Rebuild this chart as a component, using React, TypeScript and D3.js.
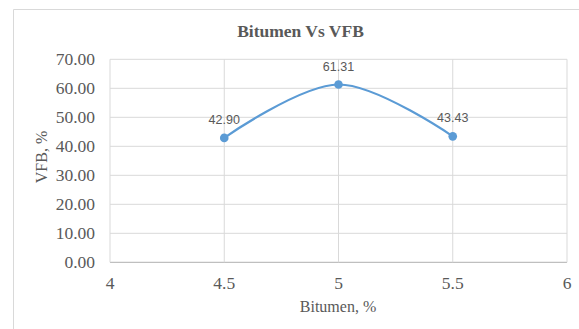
import React from "react";
import * as d3 from "d3";

const bitumen = [4.5, 5, 5.5];
const vfb = [42.9, 61.31, 43.43];
const xTicks = [4, 4.5, 5, 5.5, 6];
const yTicks = [0, 10, 20, 30, 40, 50, 60, 70];

const W = 579;
const H = 329;
const M = { left: 110, right: 567, top: 59.3, bottom: 262.3 };

export default function App() {
  const x = d3.scaleLinear().domain([4, 6]).range([M.left, M.right]);
  const y = d3.scaleLinear().domain([0, 70]).range([M.bottom, M.top]);
  const pts: [number, number][] = bitumen.map((b, i) => [x(b), y(vfb[i])]);
  const line = d3.line().curve(d3.curveCardinal.tension(0))(pts) || "";
  const serif = "'Liberation Serif', 'Times New Roman', serif";
  const sans = "'Liberation Sans', Arial, sans-serif";
  const textCol = "#595959";
  return (
    <div style={{ position: "fixed", left: 0, top: 0 }}>
      <svg width={W} height={H} viewBox={`0 0 ${W} ${H}`} style={{ display: "block", background: "#fff" }}>
        <rect x={0} y={0} width={W} height={H} fill="#fff" />
        <line x1={13.5} y1={9.5} x2={W} y2={9.5} stroke="#d9d9d9" strokeWidth={1} />
        <line x1={13.5} y1={9.5} x2={13.5} y2={H} stroke="#d9d9d9" strokeWidth={1} />
        <text x={300.5} y={37} textAnchor="middle" fontFamily={serif} fontWeight="bold" fontSize={17.5} fill={textCol}>
          Bitumen Vs VFB
        </text>
        {yTicks.map((t) => (
          <line key={"gy" + t} x1={M.left} x2={M.right} y1={y(t)} y2={y(t)} stroke={t === 0 ? "#bfbfbf" : "#d9d9d9"} strokeWidth={t === 0 ? 1.3 : 1} />
        ))}
        {xTicks.map((t) => (
          <line key={"gx" + t} x1={x(t)} x2={x(t)} y1={M.top} y2={M.bottom} stroke="#d9d9d9" strokeWidth={1} />
        ))}
        {yTicks.map((t) => (
          <text key={"ty" + t} x={95} y={y(t) + 6} textAnchor="end" fontFamily={serif} fontSize={17.5} fill={textCol}>
            {t.toFixed(2)}
          </text>
        ))}
        {xTicks.map((t) => (
          <text key={"tx" + t} x={x(t)} y={289} textAnchor="middle" fontFamily={serif} fontSize={17.5} fill={textCol}>
            {String(t)}
          </text>
        ))}
        <text x={338} y={312} textAnchor="middle" fontFamily={serif} fontSize={16} fill={textCol}>
          Bitumen, %
        </text>
        <text transform={`translate(47,157) rotate(-90)`} textAnchor="middle" fontFamily={serif} fontSize={16} fill={textCol}>
          VFB, %
        </text>
        <path d={line} fill="none" stroke="#5B9BD5" strokeWidth={2.2} />
        {pts.map((p, i) => (
          <circle key={"p" + i} cx={p[0]} cy={p[1]} r={4.3} fill="#5B9BD5" />
        ))}
        {pts.map((p, i) => (
          <text key={"l" + i} x={p[0]} y={p[1] - 14} textAnchor="middle" fontFamily={sans} fontSize={12.5} fill={textCol}>
            {vfb[i].toFixed(2)}
          </text>
        ))}
      </svg>
    </div>
  );
}
